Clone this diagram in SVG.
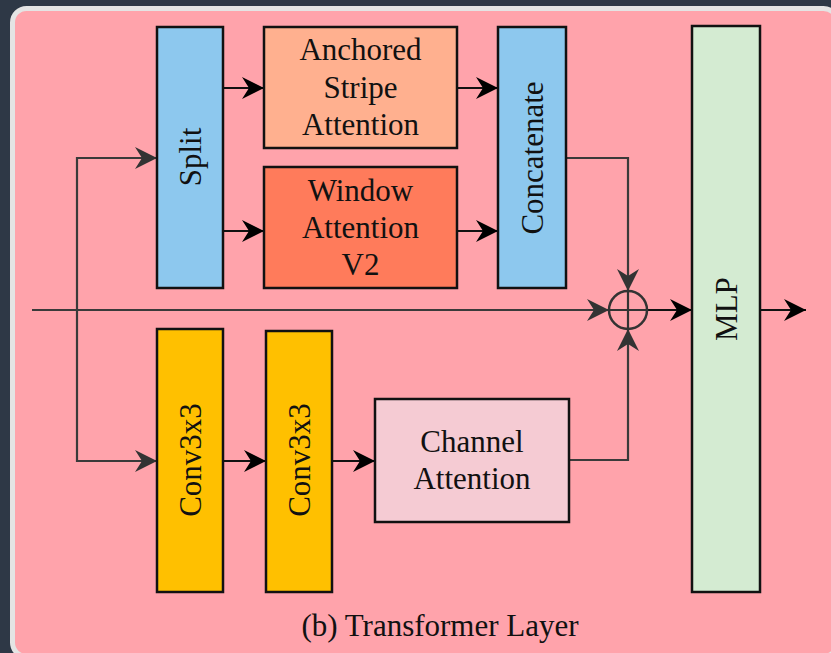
<svg xmlns="http://www.w3.org/2000/svg" width="831" height="653" viewBox="0 0 831 653">
<style>
.box{stroke:#111;stroke-width:2.5}
.t{font-family:"Liberation Serif","Times New Roman",Times,serif;font-size:31px;fill:#111;text-anchor:middle}
.c{fill:none;stroke:#3a3a3a;stroke-width:2.2}
.k{fill:none;stroke:#111;stroke-width:2.2}
</style>
<defs>
<marker id="ag" markerUnits="userSpaceOnUse" markerWidth="24" markerHeight="24" refX="22" refY="11" orient="auto">
<path d="M0,0 L22,11 L0,22 L7,11 z" fill="#333"/>
</marker>
<marker id="ab" markerUnits="userSpaceOnUse" markerWidth="24" markerHeight="24" refX="22" refY="11" orient="auto">
<path d="M0,0 L22,11 L0,22 L7,11 z" fill="#000"/>
</marker>
</defs>
<rect x="0" y="0" width="831" height="653" fill="#2e3846"/>
<rect x="12.5" y="8.5" width="825" height="648" rx="14" fill="#ffa3ab" stroke="#e4e4e4" stroke-width="5"/>
<g id="connectors">
<path class="c" d="M32,310 L609,310" marker-end="url(#ag)"/>
<path class="c" d="M77,310 L77,158 L157,158" marker-end="url(#ag)"/>
<path class="c" d="M77,310 L77,461 L157,461" marker-end="url(#ag)"/>
<path class="k" d="M223,88 L264,88" marker-end="url(#ab)"/>
<path class="k" d="M223,231 L264,231" marker-end="url(#ab)"/>
<path class="k" d="M457,88 L498,88" marker-end="url(#ab)"/>
<path class="k" d="M457,231 L498,231" marker-end="url(#ab)"/>
<path class="k" d="M223,461 L266,461" marker-end="url(#ab)"/>
<path class="k" d="M332,461 L375,461" marker-end="url(#ab)"/>
<path class="c" d="M566,158 L628,158 L628,291" marker-end="url(#ag)"/>
<path class="c" d="M569,460 L628,460 L628,329" marker-end="url(#ag)"/>
<path class="k" d="M647,310 L692,310" marker-end="url(#ab)"/>
<path class="k" d="M760,310 L806,310" marker-end="url(#ab)"/>
</g>
<g id="add">
<circle cx="628" cy="310" r="19" fill="none" stroke="#333" stroke-width="2.5"/>
<path d="M609,310 L647,310 M628,291 L628,329" stroke="#333" stroke-width="2.2"/>
</g>
<g id="split">
<rect class="box" x="157" y="27" width="66" height="261" fill="#8dc8ee"/>
<text class="t" transform="translate(190,157) rotate(-90)" dominant-baseline="central">Split</text>
</g>
<g id="anchored">
<rect class="box" x="264" y="27" width="193" height="121" fill="#ffb08f"/>
<text class="t" x="360.5" y="60">Anchored</text>
<text class="t" x="360.5" y="98">Stripe</text>
<text class="t" x="360.5" y="135">Attention</text>
</g>
<g id="window">
<rect class="box" x="264" y="167" width="193" height="121" fill="#ff7b5b"/>
<text class="t" x="360.5" y="201">Window</text>
<text class="t" x="360.5" y="238">Attention</text>
<text class="t" x="360.5" y="275">V2</text>
</g>
<g id="concatenate">
<rect class="box" x="498" y="27" width="68" height="261" fill="#8dc8ee"/>
<text class="t" transform="translate(532,158) rotate(-90)" dominant-baseline="central">Concatenate</text>
</g>
<g id="conv1">
<rect class="box" x="157" y="329" width="66" height="263" fill="#ffc000"/>
<text class="t" transform="translate(190,460) rotate(-90)" dominant-baseline="central">Conv3x3</text>
</g>
<g id="conv2">
<rect class="box" x="266" y="331" width="66" height="261" fill="#ffc000"/>
<text class="t" transform="translate(299,460) rotate(-90)" dominant-baseline="central">Conv3x3</text>
</g>
<g id="channel">
<rect class="box" x="375" y="399" width="194" height="123" fill="#f5cbd3"/>
<text class="t" x="472" y="452">Channel</text>
<text class="t" x="472" y="489">Attention</text>
</g>
<g id="mlp">
<rect class="box" x="692" y="26" width="68" height="566" fill="#d4ebd2"/>
<text class="t" transform="translate(726,309) rotate(-90)" dominant-baseline="central">MLP</text>
</g>
<text class="t" x="440" y="636">(b) Transformer Layer</text>
</svg>
